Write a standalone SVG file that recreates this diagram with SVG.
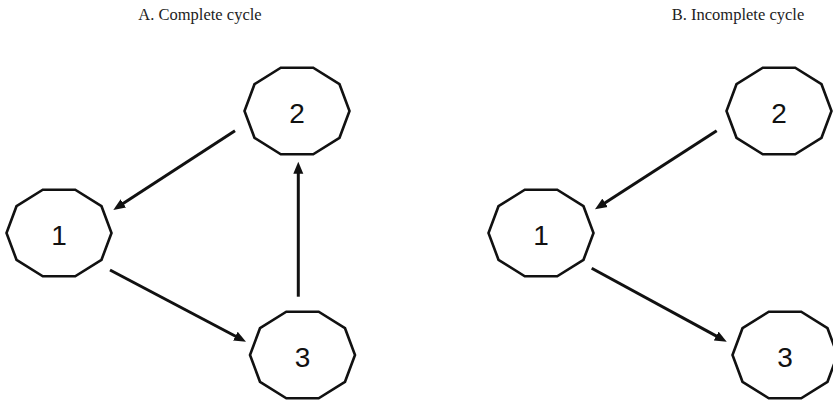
<svg xmlns="http://www.w3.org/2000/svg" xmlns:xlink="http://www.w3.org/1999/xlink" width="833" height="400" viewBox="0 0 833 400">
<style>
.title{font-family:"Liberation Serif","Times New Roman",serif;font-size:16.5px;fill:#222;text-anchor:middle}
.num{font-family:"Liberation Sans",Arial,sans-serif;font-size:28px;fill:#111;text-anchor:middle}
.deca{fill:#fff;stroke:#111;stroke-width:2.6;stroke-linejoin:miter}
.conn line{stroke:#111;stroke-width:3;marker-end:url(#ah)}
</style>
<defs>
<polygon id="dec" points="52.5,0 42.5,26.8 16.2,43.3 -16.2,43.3 -42.5,26.8 -52.5,0 -42.5,-26.8 -16.2,-43.3 16.2,-43.3 42.5,-26.8"/>
<marker id="ah" markerUnits="userSpaceOnUse" markerWidth="13" markerHeight="11" refX="4" refY="5" orient="auto" viewBox="0 0 13 10">
<path d="M0,0 L12,5 L0,10 z" fill="#111"/>
</marker>
</defs>
<rect width="833" height="400" fill="#fff"/>
<text class="title" x="200" y="20">A. Complete cycle</text>
<text class="title" x="738" y="20">B. Incomplete cycle</text>
<g id="connectors" class="conn">
<line x1="235" y1="130.7" x2="120" y2="205.6"/>
<line x1="110" y1="270" x2="238.9" y2="338"/>
<line x1="298.3" y1="296.7" x2="298.3" y2="169.7"/>
<line x1="716.7" y1="130.7" x2="601.7" y2="205"/>
<line x1="591.7" y1="268.3" x2="719.7" y2="337.9"/>
</g>
<g id="nodeA1" transform="translate(59,233)"><use xlink:href="#dec" class="deca"/><text class="num" x="0" y="11.5">1</text></g>
<g id="nodeA2" transform="translate(297,111)"><use xlink:href="#dec" class="deca"/><text class="num" x="0" y="11.5">2</text></g>
<g id="nodeA3" transform="translate(302.5,355)"><use xlink:href="#dec" class="deca"/><text class="num" x="0" y="11.5">3</text></g>
<g id="nodeB1" transform="translate(541,233)"><use xlink:href="#dec" class="deca"/><text class="num" x="0" y="11.5">1</text></g>
<g id="nodeB2" transform="translate(779,111)"><use xlink:href="#dec" class="deca"/><text class="num" x="0" y="11.5">2</text></g>
<g id="nodeB3" transform="translate(785,355)"><use xlink:href="#dec" class="deca"/><text class="num" x="0" y="11.5">3</text></g>
</svg>
